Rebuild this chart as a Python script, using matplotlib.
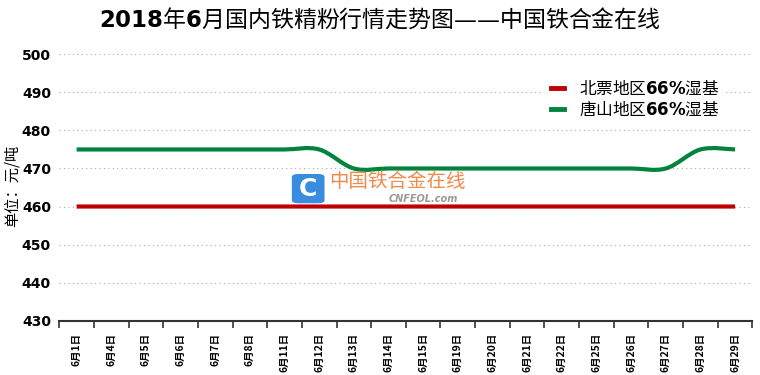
import matplotlib.pyplot as plt
import numpy as np
from matplotlib.path import Path
from matplotlib.patches import PathPatch, FancyBboxPatch

plt.rcParams['font.family'] = ['Noto Sans CJK SC', 'DejaVu Sans']
plt.rcParams['mathtext.fontset'] = 'dejavusans'

dates = ['6月1日', '6月4日', '6月5日', '6月6日', '6月7日', '6月8日', '6月11日',
         '6月12日', '6月13日', '6月14日', '6月15日', '6月19日', '6月20日',
         '6月21日', '6月22日', '6月25日', '6月26日', '6月27日', '6月28日', '6月29日']
beipiao = [460] * 20
tangshan = [475, 475, 475, 475, 475, 475, 475, 475, 470, 470,
            470, 470, 470, 470, 470, 470, 470, 470, 475, 475]
names = [r'北票地区$\mathbf{66\%}$湿基', r'唐山地区$\mathbf{66\%}$湿基']
colors = ['#C00000', '#00843D']


def smooth_path(x, y, t=1 / 6):
    # excel-style smoothed line as cubic bezier segments
    verts = [(x[0], y[0])]
    codes = [Path.MOVETO]
    n = len(x)
    for i in range(n - 1):
        x0, y0 = (x[i - 1], y[i - 1]) if i > 0 else (x[i], y[i])
        x3, y3 = (x[i + 2], y[i + 2]) if i + 2 < n else (x[i + 1], y[i + 1])
        c1 = (x[i] + (x[i + 1] - x0) * t, y[i] + (y[i + 1] - y0) * t)
        c2 = (x[i + 1] - (x3 - x[i]) * t, y[i + 1] - (y3 - y[i]) * t)
        verts += [c1, c2, (x[i + 1], y[i + 1])]
        codes += [Path.CURVE4] * 3
    return Path(verts, codes)


fig = plt.figure(figsize=(7.6, 3.75), dpi=100)
ax = fig.add_axes([0.078, 0.145, 0.912, 0.71])
xs = np.arange(len(dates))

for vals, name, c in zip([beipiao, tangshan], names, colors):
    ax.add_patch(PathPatch(smooth_path(xs, vals), fill=False, edgecolor=c, lw=3,
                           capstyle='butt', zorder=3))
    ax.plot([], [], color=c, lw=3.5, label=name)

ax.set_xlim(-0.5, len(dates) - 0.5)
ax.set_ylim(430, 500)
ax.set_yticks(range(430, 501, 10))
ax.set_yticklabels([str(v) for v in range(430, 501, 10)], fontsize=10,
                   fontweight='bold', family='DejaVu Sans')
ax.set_xticks(xs)
ax.set_xticklabels(dates, rotation=90, fontsize=7.5, fontweight='bold')
ax.set_xticks(np.arange(-0.5, len(dates)), minor=True)
ax.tick_params(axis='x', which='major', length=0, pad=9)
ax.tick_params(axis='x', which='minor', length=5, width=1.2, color='#333333', direction='out')
ax.tick_params(axis='y', length=0, pad=6)
ax.yaxis.grid(True, linestyle=(0, (1, 3)), color='#AAAAAA', lw=0.8)
for s in ['top', 'right', 'left']:
    ax.spines[s].set_visible(False)
ax.spines['bottom'].set_color('#333333')
ax.spines['bottom'].set_linewidth(1.5)

fig.text(0.016, 0.505, '单位：元/吨', fontsize=11, rotation=90, ha='center', va='center')

fig.suptitle(r'$\mathbf{2018}$年$\mathbf{6}$月国内铁精粉行情走势图——中国铁合金在线',
             fontsize=16.5, y=0.985)

leg = ax.legend(loc='upper right', bbox_to_anchor=(0.962, 0.93), frameon=True,
                fontsize=12, handlelength=0.8, handletextpad=0.9,
                labelspacing=0.15, borderaxespad=0)
leg.get_frame().set_facecolor('white')
leg.get_frame().set_edgecolor('none')

# watermark
box = FancyBboxPatch((0.388, 0.462), 0.035, 0.07, boxstyle='round,pad=0.004,rounding_size=0.008',
                     transform=fig.transFigure, facecolor='#3A8DDE', edgecolor='none', zorder=5)
fig.add_artist(box)
fig.text(0.4055, 0.497, 'C', fontsize=18, fontweight='bold', color='white',
         ha='center', va='center', family='DejaVu Sans', zorder=6)
fig.text(0.433, 0.515, '中国铁合金在线', fontsize=14, color='#F08A4B',
         ha='left', va='center', zorder=6)
fig.text(0.512, 0.47, 'CNFEOL.com', fontsize=7, color='#999999', style='italic',
         fontweight='bold', ha='left', va='center', family='DejaVu Sans', zorder=6)

fig.savefig('out.png', dpi=100, facecolor='white')
